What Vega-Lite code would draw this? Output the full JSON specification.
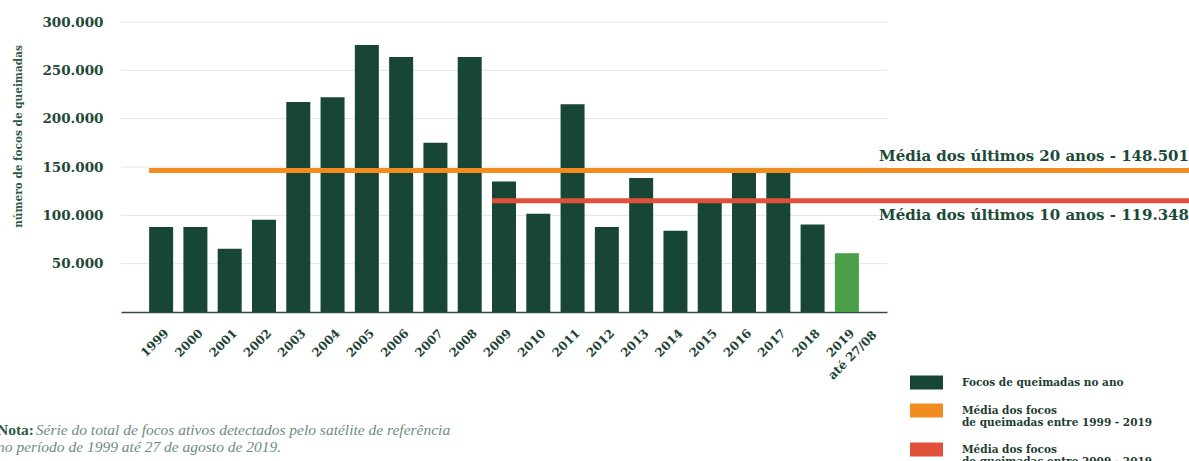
{
  "$schema": "https://vega.github.io/schema/vega-lite/v6.json",
  "width": 1068,
  "height": 290,
  "autosize": {"type": "none"},
  "padding": {"left": 121, "top": 22, "right": 0, "bottom": 149},
  "background": "white",
  "config": {
    "view": {"stroke": null},
    "locale": {"number": {"decimal": ",", "thousands": ".", "grouping": [3], "currency": ["R$ ", ""]}},
    "font": "DejaVu Serif"
  },
  "datasets": {
    "grade": [
      {"valor": 50000}, {"valor": 100000}, {"valor": 150000},
      {"valor": 200000}, {"valor": 250000}, {"valor": 300000}
    ],
    "focos": [
      {"ano": "1999", "valor": 87900, "tipo": "Focos de queimadas no ano"},
      {"ano": "2000", "valor": 87900, "tipo": "Focos de queimadas no ano"},
      {"ano": "2001", "valor": 65500, "tipo": "Focos de queimadas no ano"},
      {"ano": "2002", "valor": 95500, "tipo": "Focos de queimadas no ano"},
      {"ano": "2003", "valor": 217200, "tipo": "Focos de queimadas no ano"},
      {"ano": "2004", "valor": 222100, "tipo": "Focos de queimadas no ano"},
      {"ano": "2005", "valor": 276200, "tipo": "Focos de queimadas no ano"},
      {"ano": "2006", "valor": 263800, "tipo": "Focos de queimadas no ano"},
      {"ano": "2007", "valor": 175200, "tipo": "Focos de queimadas no ano"},
      {"ano": "2008", "valor": 263800, "tipo": "Focos de queimadas no ano"},
      {"ano": "2009", "valor": 134900, "tipo": "Focos de queimadas no ano"},
      {"ano": "2010", "valor": 101700, "tipo": "Focos de queimadas no ano"},
      {"ano": "2011", "valor": 214900, "tipo": "Focos de queimadas no ano"},
      {"ano": "2012", "valor": 87900, "tipo": "Focos de queimadas no ano"},
      {"ano": "2013", "valor": 138600, "tipo": "Focos de queimadas no ano"},
      {"ano": "2014", "valor": 84100, "tipo": "Focos de queimadas no ano"},
      {"ano": "2015", "valor": 114200, "tipo": "Focos de queimadas no ano"},
      {"ano": "2016", "valor": 146000, "tipo": "Focos de queimadas no ano"},
      {"ano": "2017", "valor": 146000, "tipo": "Focos de queimadas no ano"},
      {"ano": "2018", "valor": 90400, "tipo": "Focos de queimadas no ano"},
      {"ano": "2019", "valor": 60700, "tipo": "Focos até 27/08"}
    ],
    "medias": [
      {"ano": "1999", "valor": 146500, "tipo": "Média dos focos|de queimadas entre 1999 - 2019", "rotulo": "Média dos últimos 20 anos - 148.501"},
      {"ano": "2009", "valor": 115000, "tipo": "Média dos focos|de queimadas entre 2009 - 2019", "rotulo": "Média dos últimos 10 anos - 119.348"}
    ]
  },
  "title": {
    "text": "Nota:",
    "subtitle": [
      "\u200b\u00a0\u00a0\u00a0\u00a0\u00a0\u00a0\u00a0\u00a0\u00a0\u00a0Série do total de focos ativos detectados pelo satélite de referência",
      "no período de 1999 até 27 de agosto de 2019."
    ],
    "orient": "bottom",
    "anchor": "start",
    "frame": "group",
    "dx": -124,
    "offset": -45,
    "font": "Liberation Serif",
    "fontSize": 15.5,
    "fontWeight": "bold",
    "color": "#2e5a48",
    "subtitleFont": "Liberation Serif",
    "subtitleFontSize": 15.5,
    "subtitleFontStyle": "italic",
    "subtitleColor": "#6f8c7e",
    "subtitlePadding": -15.5,
    "subtitleLineHeight": 17
  },
  "layer": [
    {
      "data": {"name": "grade"},
      "mark": {"type": "rule", "color": "#dfe6e2", "strokeWidth": 1},
      "encoding": {
        "y": {"field": "valor", "type": "quantitative", "title": "número de focos de queimadas", "scale": {"domain": [0, 300000]}},
        "x": {"datum": 0, "type": "quantitative", "scale": {"domain": [0, 1], "range": [0, 766]}, "axis": null},
        "x2": {"datum": 1}
      }
    },
    {
      "layer": [
        {
          "data": {"name": "focos"},
          "mark": {"type": "bar"},
          "encoding": {
            "x": {
              "field": "ano", "type": "nominal", "sort": "ascending", "title": null,
              "scale": {"range": [0, 766], "paddingInner": 0.3, "paddingOuter": 0.82},
              "axis": {
                "labelAngle": -45, "labelAlign": "center", "labelBaseline": "top",
                "labelPadding": 27, "labelOffset": -10, "ticks": false,
                "domain": true, "domainColor": "#2f4f43", "domainWidth": 1.5, "grid": false,
                "labelFont": "DejaVu Serif", "labelFontWeight": "bold", "labelFontSize": 12,
                "labelColor": "#1f4436", "labelLineHeight": 17, "labelOverlap": false, "labelBound": false,
                "labelExpr": "datum.value == '2019' ? ['2019', 'até 27/08'] : datum.value"
              }
            },
            "y": {
              "field": "valor", "type": "quantitative", "title": "número de focos de queimadas",
              "scale": {"domain": [0, 300000]},
              "axis": {
                "format": ",d", "values": [50000, 100000, 150000, 200000, 250000, 300000],
                "domain": false, "ticks": false, "grid": false, "labelPadding": 18,
                "labelFont": "DejaVu Serif", "labelFontWeight": "bold", "labelFontSize": 13.5, "labelColor": "#1f4a3a",
                "titleFont": "DejaVu Serif", "titleFontWeight": "bold", "titleFontSize": 10.5, "titleColor": "#2c5846",
                "titlePadding": 18, "titleY": 114
              }
            },
            "color": {
              "field": "tipo", "type": "nominal",
              "scale": {
                "domain": ["Focos de queimadas no ano", "Média dos focos|de queimadas entre 1999 - 2019", "Média dos focos|de queimadas entre 2009 - 2019", "Focos até 27/08"],
                "range": ["#174636", "#f28c20", "#e1503a", "#4a9e48"]
              },
              "legend": {
                "orient": "none", "legendX": 789, "legendY": 344, "title": null,
                "values": ["Focos de queimadas no ano", "Média dos focos|de queimadas entre 1999 - 2019", "Média dos focos|de queimadas entre 2009 - 2019"],
                "symbolType": "M-1,-0.42H1V0.42H-1Z", "symbolSize": 1089, "symbolStrokeWidth": 0, "symbolOpacity": 1,
                "labelOffset": 19, "labelFont": "DejaVu Serif", "labelFontWeight": "bold", "labelFontSize": 10.5,
                "labelColor": "#1b3d30", "labelLimit": 400, "rowPadding": 4, "padding": 0,
                "labelExpr": "split(datum.label, '|')",
                "encode": {"symbols": {"update": {"fill": {"scale": "color", "field": "value"}, "stroke": {"value": "transparent"}}}}
              }
            }
          }
        },
        {
          "data": {"name": "medias"},
          "mark": {"type": "rule", "strokeWidth": 5, "strokeCap": "butt"},
          "encoding": {
            "x": {"field": "ano", "type": "nominal", "sort": "ascending", "bandPosition": 0},
            "x2": {"value": "width"},
            "y": {"field": "valor", "type": "quantitative", "title": "número de focos de queimadas"},
            "color": {"field": "tipo", "type": "nominal"}
          }
        },
        {
          "data": {"name": "medias"},
          "transform": [{"filter": "datum.ano == '1999'"}],
          "mark": {"type": "text", "align": "right", "baseline": "middle", "dy": -14, "font": "DejaVu Serif", "fontWeight": "bold", "fontSize": 15, "color": "#1c4a38"},
          "encoding": {
            "x": {"value": "width"},
            "y": {"field": "valor", "type": "quantitative", "title": "número de focos de queimadas"},
            "text": {"field": "rotulo"}
          }
        },
        {
          "data": {"name": "medias"},
          "transform": [{"filter": "datum.ano == '2009'"}],
          "mark": {"type": "text", "align": "right", "baseline": "middle", "dy": 14, "font": "DejaVu Serif", "fontWeight": "bold", "fontSize": 15, "color": "#1c4a38"},
          "encoding": {
            "x": {"value": "width"},
            "y": {"field": "valor", "type": "quantitative", "title": "número de focos de queimadas"},
            "text": {"field": "rotulo"}
          }
        }
      ]
    }
  ],
  "resolve": {"scale": {"x": "independent"}}
}
